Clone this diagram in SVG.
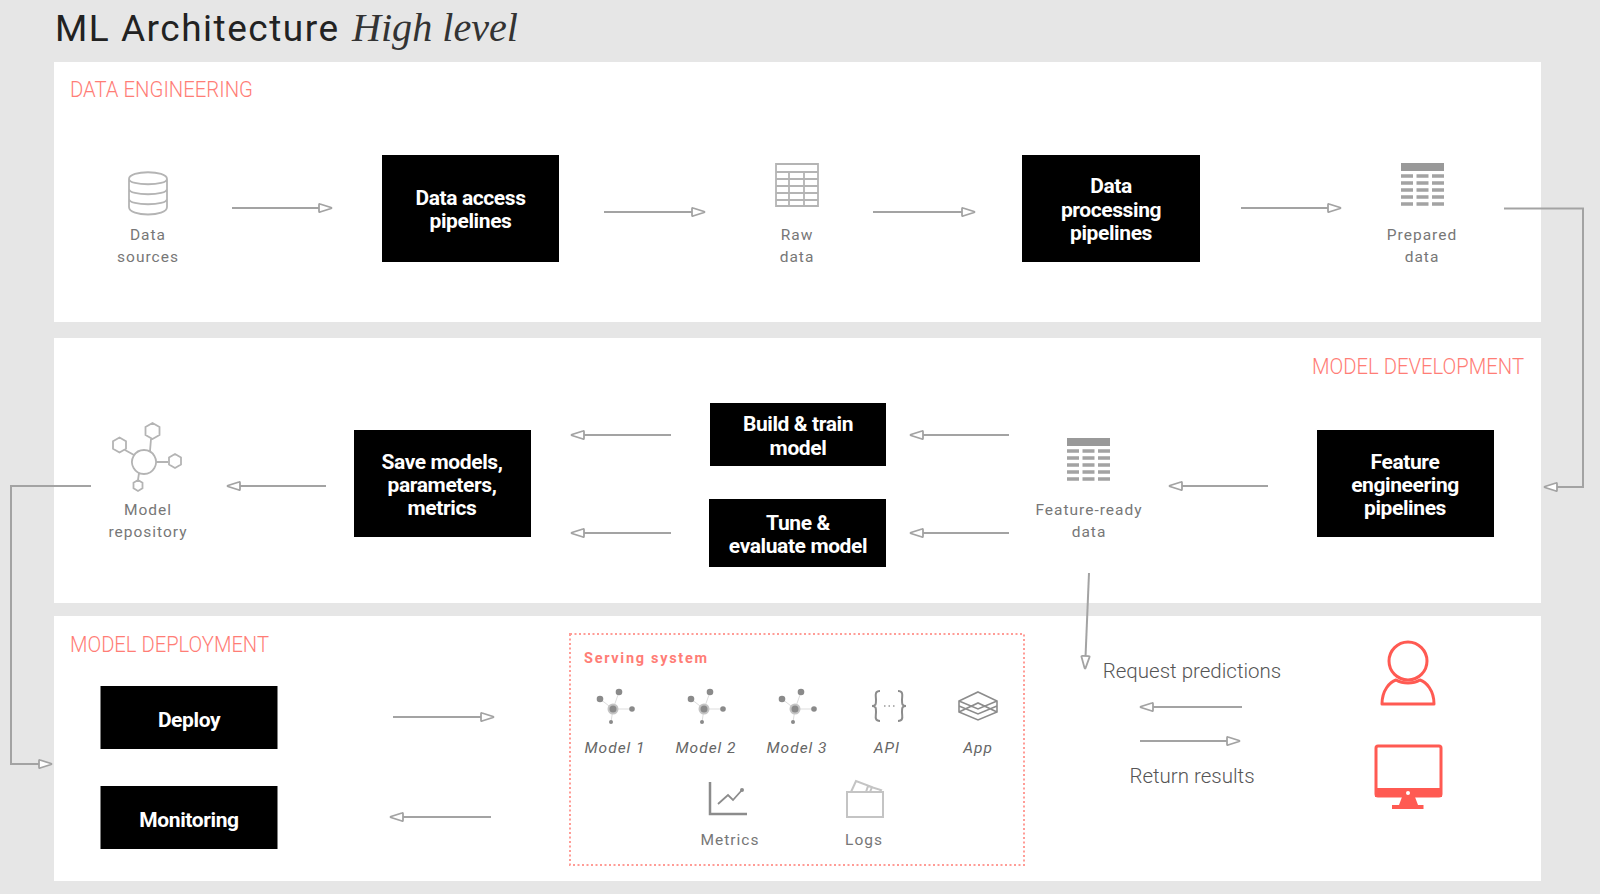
<svg xmlns="http://www.w3.org/2000/svg" width="1600" height="894" viewBox="0 0 1600 894">
<style>
text{font-family:Roboto,"Liberation Sans",sans-serif}
.panel{fill:#fff}
.box{fill:#000}
.bt{fill:#fff;font-size:21px;font-weight:700;text-anchor:middle;letter-spacing:-.4px}
.sec{fill:#ff7d76;font-size:22px;font-weight:300}
.lb{fill:#777;font-size:15.500px;font-weight:400;text-anchor:middle;letter-spacing:1px}
.it{fill:#666;font-size:15.500px;font-style:italic;text-anchor:middle;letter-spacing:1px}
.msg{fill:#555;font-size:20.500px;font-weight:300;text-anchor:middle}
.c{fill:none;stroke:#a3a3a3;stroke-width:2;marker-end:url(#ah)}
.ic{fill:none;stroke:#b4b4b4;stroke-width:1.800}
.g{fill:none;stroke:#8c8c8c;stroke-width:2}
.r{fill:none;stroke:#ff5a52;stroke-width:3;stroke-linejoin:round}
</style>
<defs>
<marker id="ah" markerUnits="userSpaceOnUse" markerWidth="18" markerHeight="14" refX="15" refY="7" orient="auto">
<path d="M3,3 Q2,2.500 2,4 V10 Q2,11.500 3,11 L14,7.500 Q15,7 14,6.500 Z" fill="#fff" stroke="#a3a3a3" stroke-width="1.800"/>
</marker>
<g id="mi">
<path d="M0,0 L-13,-10 M0,0 L6,-17 M0,0 L19,0 M0,0 L-2,13" stroke="#ddd" stroke-width="1"/>
<circle cx="0" cy="0" r="4.500" fill="#8a8a8a" stroke="#c4c4c4" stroke-width="2"/>
<circle cx="-13" cy="-10" r="3.300" fill="#8a8a8a"/>
<circle cx="6" cy="-17" r="3.300" fill="#8a8a8a"/>
<circle cx="19" cy="0" r="2.800" fill="#8a8a8a"/>
<circle cx="-2" cy="13" r="2" fill="#8a8a8a"/>
</g>
<g id="dk">
<rect x="0" y="0" width="43" height="8" fill="#999"/>
<path d="M0,13H12M15.500,13H27.500M31,13H43M0,20H12M15.500,20H27.500M31,20H43M0,27H12M15.500,27H27.500M31,27H43M0,34H12M15.500,34H27.500M31,34H43M0,41H12M15.500,41H27.500M31,41H43" stroke="#a3a3a3" stroke-width="3.500" fill="none"/>
</g>
</defs>
<rect width="1600" height="894" fill="#e6e6e6"/>
<g id="panels">
<rect class="panel" x="54" y="62" width="1487" height="260"/>
<rect class="panel" x="54" y="338" width="1487" height="265"/>
<rect class="panel" x="54" y="616" width="1487" height="265"/>
</g>
<g id="title">
<text x="55" y="41" font-size="37" font-weight="400" fill="#222" textLength="283" lengthAdjust="spacing">ML Architecture</text>
<text x="352" y="41" font-size="41" font-style="italic" fill="#333" textLength="166" lengthAdjust="spacingAndGlyphs" style="font-family:'Liberation Serif',serif">High level</text>
</g>
<g id="section-labels">
<text class="sec" x="70" y="97" textLength="183" lengthAdjust="spacingAndGlyphs">DATA ENGINEERING</text>
<text class="sec" x="1312" y="374" textLength="212" lengthAdjust="spacingAndGlyphs">MODEL DEVELOPMENT</text>
<text class="sec" x="70" y="652" textLength="199" lengthAdjust="spacingAndGlyphs">MODEL DEPLOYMENT</text>
</g>
<g id="connectors">
<path class="c" d="M232,208H332"/>
<path class="c" d="M604,212H705"/>
<path class="c" d="M873,212H975"/>
<path class="c" d="M1241,208H1341"/>
<path class="c" d="M1504,208.500H1583V487H1544"/>
<path class="c" d="M326,486H227"/>
<path class="c" d="M671,435H571"/>
<path class="c" d="M671,533H571"/>
<path class="c" d="M1009,435H910"/>
<path class="c" d="M1009,533H910"/>
<path class="c" d="M1268,486H1169"/>
<path class="c" d="M91,486H11V764H52"/>
<path class="c" d="M1089,573L1085,669"/>
<path class="c" d="M393,717H494"/>
<path class="c" d="M491,817H390"/>
<path class="c" d="M1242,707H1140"/>
<path class="c" d="M1140,741H1240"/>
</g>
<g id="data-sources">
<path class="ic" d="M129,179c0,-9 38,-9 38,0V207c0,10 -38,10 -38,0Z M129,179c0,7 38,7 38,0 M129,189c0,7 38,7 38,0 M129,199c0,7 38,7 38,0"/>
<text class="lb" x="148" y="240">Data</text>
<text class="lb" x="148" y="262">sources</text>
</g>
<g id="data-access">
<rect class="box" x="382" y="155" width="177" height="107"/>
<text class="bt" x="470.500" y="205">Data access</text>
<text class="bt" x="470.500" y="228">pipelines</text>
</g>
<g id="raw-data">
<path class="ic" stroke-width="1.500" d="M776,164H818V206H776Z M776,172H818M776,179H818M776,186H818M776,193H818M776,200H818M789,172V206M804,172V206"/>
<text class="lb" x="797" y="240">Raw</text>
<text class="lb" x="797" y="262">data</text>
</g>
<g id="data-processing">
<rect class="box" x="1022" y="155" width="178" height="107"/>
<text class="bt" x="1111" y="193">Data</text>
<text class="bt" x="1111" y="217">processing</text>
<text class="bt" x="1111" y="240">pipelines</text>
</g>
<g id="prepared-data">
<use href="#dk" x="1401" y="163"/>
<text class="lb" x="1422" y="240">Prepared</text>
<text class="lb" x="1422" y="262">data</text>
</g>
<g id="model-repository">
<path class="ic" d="M144,450a12,12 0 1,0 .01,0Z M150,451L151,439M134,455L125,450M156,462H168M139,473L138,480 M152.500,423l7,4v8l-7,4-7,-4v-8Z M119.500,437.500l6.500,3.800v7.400l-6.500,3.800-6.500,-3.800v-7.400Z M175,454l6,3.500v7l-6,3.500-6,-3.500v-7Z M138,480l4.500,2.700v5.600l-4.500,2.700-4.500,-2.700v-5.600Z"/>
<text class="lb" x="148" y="515">Model</text>
<text class="lb" x="148" y="537">repository</text>
</g>
<g id="save-models">
<rect class="box" x="354" y="430" width="177" height="107"/>
<text class="bt" x="442" y="469">Save models,</text>
<text class="bt" x="442" y="492">parameters,</text>
<text class="bt" x="442" y="515">metrics</text>
</g>
<g id="build-train">
<rect class="box" x="710" y="403" width="176" height="63"/>
<text class="bt" x="798" y="431">Build &amp; train</text>
<text class="bt" x="798" y="455">model</text>
</g>
<g id="tune-evaluate">
<rect class="box" x="709" y="499" width="177" height="68"/>
<text class="bt" x="798" y="530">Tune &amp;</text>
<text class="bt" x="798" y="553">evaluate model</text>
</g>
<g id="feature-ready-data">
<use href="#dk" x="1067" y="438"/>
<text class="lb" x="1089" y="515">Feature-ready</text>
<text class="lb" x="1089" y="537">data</text>
</g>
<g id="feature-engineering">
<rect class="box" x="1317" y="430" width="177" height="107"/>
<text class="bt" x="1405" y="469">Feature</text>
<text class="bt" x="1405" y="492">engineering</text>
<text class="bt" x="1405" y="515">pipelines</text>
</g>
<g id="deploy">
<rect class="box" x="100.500" y="686" width="177" height="63"/>
<text class="bt" x="189" y="727">Deploy</text>
</g>
<g id="monitoring">
<rect class="box" x="100.500" y="786" width="177" height="63"/>
<text class="bt" x="189" y="827">Monitoring</text>
</g>
<g id="serving-system">
<rect x="570" y="634" width="454" height="231" fill="none" stroke="#ff9c96" stroke-width="2" stroke-dasharray="2 2.500"/>
<text x="584" y="663" font-size="14.500" font-weight="700" fill="#ff7d76" letter-spacing="1.700">Serving system</text>
</g>
<g id="model-1"><use href="#mi" x="613" y="709"/><text class="it" x="615" y="753">Model 1</text></g>
<g id="model-2"><use href="#mi" x="704" y="709"/><text class="it" x="706" y="753">Model 2</text></g>
<g id="model-3"><use href="#mi" x="795" y="709"/><text class="it" x="797" y="753">Model 3</text></g>
<g id="api">
<path class="g" d="M880,691c-6,0-4,5-4,9s0,6-4,6c4,0 4,2 4,6s-2,9 4,9 M898,691c6,0 4,5 4,9s0,6 4,6c-4,0-4,2-4,6s2,9-4,9"/>
<path d="M884,706h1.500M888.500,706h1.500M893,706h1.500" stroke="#999" stroke-width="1.500"/>
<text class="it" x="887" y="753">API</text>
</g>
<g id="app">
<path fill="none" stroke="#8c8c8c" stroke-width="1.600" d="M978,692L997,701V712L978,720L959,712V701Z M959,701L978,709L997,701 M959,706L978,714L997,706 M959,712L978,703L997,712"/>
<text class="it" x="978" y="753">App</text>
</g>
<g id="metrics">
<path fill="none" stroke="#8c8c8c" stroke-width="2.500" d="M710,782V814H747"/>
<path fill="none" stroke="#8c8c8c" stroke-width="1.800" d="M718,804L728,795L733,800L742,790"/>
<circle cx="742" cy="790" r="2" fill="#8c8c8c"/>
<text class="lb" x="730" y="845">Metrics</text>
</g>
<g id="logs">
<path fill="none" stroke="#c4c4c4" stroke-width="2" d="M847,792H883V817H847Z M851,792L856,781L872,787L870,792 M866,792L868,786L881,790L880,792"/>
<text class="lb" x="864" y="845">Logs</text>
</g>
<g id="request-return">
<text class="msg" x="1192" y="678">Request predictions</text>
<text class="msg" x="1192" y="783">Return results</text>
</g>
<g id="user">
<circle class="r" cx="1408" cy="661" r="19"/>
<path class="r" d="M1382,704c0,-14 8,-22 14,-24c7,4 17,4 24,0c6,2 14,10 14,24Z"/>
</g>
<g id="monitor">
<rect class="r" x="1376" y="746" width="65" height="50" rx="2"/>
<rect x="1375" y="788" width="67" height="9" fill="#ff5a52"/>
<circle cx="1408" cy="793" r="2" fill="#fff"/>
<path d="M1402,797H1415L1418,805H1423.500V809H1392V805H1399Z" fill="#ff5a52"/>
</g>
</svg>
